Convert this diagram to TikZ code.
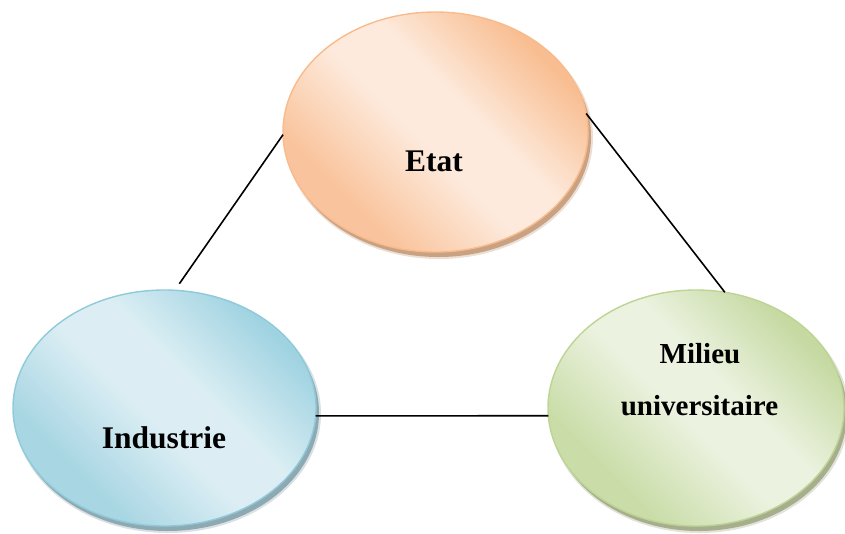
\documentclass[tikz,border=0pt]{standalone}
\usepackage{fontspec}
\setmainfont{Liberation Serif}
\usetikzlibrary{shapes.geometric}

% palette: fill gradient (dark / light / mid), outline and drop shadow per bubble
\definecolor{etatDark}{HTML}{F8BD90}
\definecolor{etatLight}{HTML}{FDEADC}
\definecolor{etatMid}{HTML}{F9C49D}
\definecolor{etatLine}{HTML}{F9BB8C}
\definecolor{etatShadow}{HTML}{C9A284}
\definecolor{indDark}{HTML}{A0D3E1}
\definecolor{indLight}{HTML}{DCEEF4}
\definecolor{indMid}{HTML}{A8D6E3}
\definecolor{indLine}{HTML}{8FCADA}
\definecolor{indShadow}{HTML}{8EA9B2}
\definecolor{milDark}{HTML}{C5D9A1}
\definecolor{milLight}{HTML}{EBF2DF}
\definecolor{milMid}{HTML}{CADDA9}
\definecolor{milLine}{HTML}{BDD494}
\definecolor{milShadow}{HTML}{A7AE8E}

% diagonal fills: dark towards the upper right, a broad light band, softer lower left
\pgfdeclareverticalshading{etatFill}{100bp}{color(0bp)=(etatMid); color(30bp)=(etatMid);
  color(47bp)=(etatLight); color(57bp)=(etatLight); color(74bp)=(etatDark); color(100bp)=(etatDark)}
\pgfdeclareverticalshading{indFill}{100bp}{color(0bp)=(indMid); color(30bp)=(indMid);
  color(47bp)=(indLight); color(57bp)=(indLight); color(74bp)=(indDark); color(100bp)=(indDark)}
\pgfdeclareverticalshading{milFill}{100bp}{color(0bp)=(milMid); color(30bp)=(milMid);
  color(47bp)=(milLight); color(57bp)=(milLight); color(74bp)=(milDark); color(100bp)=(milDark)}

\begin{document}
\begin{tikzpicture}[x=1pt,y=-1pt,
  bubble/.style 2 args={ellipse, inner sep=0pt, outer sep=0pt, line width=1.4pt,
    draw=#2, shading=#1, shading angle=-45},
  lbl/.style={font=\bfseries\fontsize{31.5}{38}\selectfont, anchor=base, inner sep=0pt},
  lblsmall/.style={font=\bfseries\fontsize{29}{35}\selectfont, anchor=base, inner sep=0pt},
  link/.style={line width=1.6pt, black}]
\useasboundingbox (0,0) rectangle (845,533);

% centres of the three bubbles
\coordinate (cE) at (435.5,132);
\coordinate (cI) at (164.5,408);
\coordinate (cM) at (696,408);

% soft drop shadows
\fill[etatShadow, opacity=0.35] ([shift={(3.5,5.5)}]cE) ellipse [x radius=154, y radius=121.5];
\fill[etatShadow] ([shift={(3,5)}]cE) ellipse [x radius=152.5, y radius=120];
\fill[indShadow, opacity=0.35] ([shift={(3.5,5.5)}]cI) ellipse [x radius=153, y radius=119.5];
\fill[indShadow] ([shift={(3,5)}]cI) ellipse [x radius=151.5, y radius=118];
\fill[milShadow, opacity=0.35] ([shift={(3.5,5.5)}]cM) ellipse [x radius=149.5, y radius=119.5];
\fill[milShadow] ([shift={(3,5)}]cM) ellipse [x radius=148, y radius=118];

% bubbles
\node[bubble={etatFill}{etatLine},
      minimum width=305pt, minimum height=240pt] (etat) at (cE) {};
\node[bubble={indFill}{indLine},
      minimum width=303pt, minimum height=236pt] (ind) at (cI) {};
\node[bubble={milFill}{milLine},
      minimum width=296pt, minimum height=236pt] (mil) at (cM) {};

% labels
\node[lbl] (tEtat) at ([shift={(-1.5,39)}]cE) {Etat};
\node[lbl] (tInd) at ([shift={(-0.5,40)}]cI) {Industrie};
\node[lblsmall] (tMil1) at ([shift={(4,-45)}]cM) {Milieu};
\node[lblsmall] (tMil2) at ([shift={(3.5,7)}]cM) {universitaire};

% connectors
\draw[link, shorten >=8pt] (etat.181.5) -- (ind.85);
\draw[link] (etat.7) -- (mil.76.5);
\draw[link] (ind.-3) -- (mil.183);
\end{tikzpicture}
\end{document}
